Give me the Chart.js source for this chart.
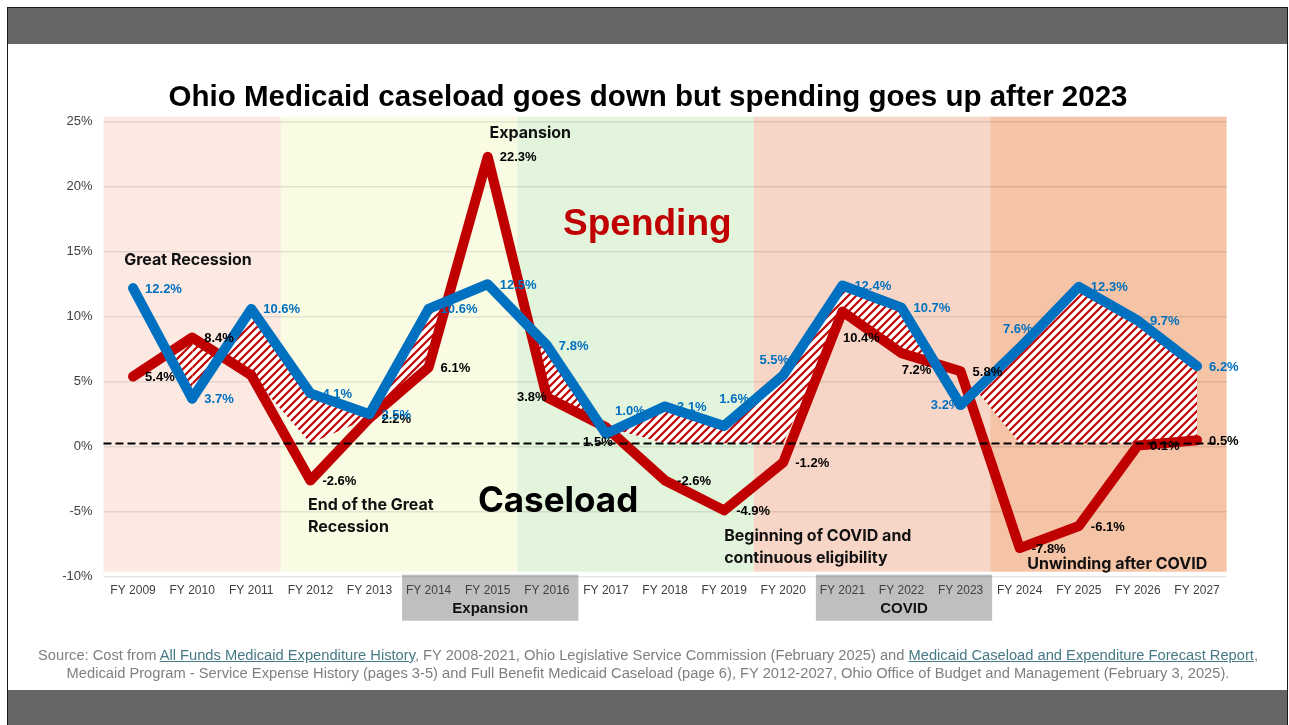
<!DOCTYPE html>
<html><head><meta charset="utf-8">
<script src="https://cdn.jsdelivr.net/npm/chart.js@4"></script>
<style>
html,body{margin:0;padding:0;background:#fff;width:1289px;height:725px;overflow:hidden;font-family:"Liberation Sans",Arial,sans-serif}
#frame{position:absolute;left:7px;top:7px;width:1281px;height:720px;border:1px solid #1a1a1a;box-sizing:border-box}
#topbar{position:absolute;left:8px;top:8px;width:1279px;height:36px;background:#666}
#botbar{position:absolute;left:8px;top:690px;width:1279px;height:35px;background:#666}
#c{position:absolute;left:0;top:0}
#title{position:absolute;left:0;width:1296px;top:79px;line-height:33px;text-align:center;font-weight:bold;font-size:29.5px;color:#000}
#source{position:absolute;left:0;width:1296px;top:646px;text-align:center;font-size:14.7px;line-height:18px;color:#7f7f7f;white-space:nowrap}
#source a{color:#467886;text-decoration:underline}
</style>
</head><body>
<div id="frame"></div>
<div id="topbar"></div>
<div id="botbar"></div>
<canvas id="c" width="1289" height="725"></canvas>
<div id="title">Ohio Medicaid caseload goes down but spending goes up after 2023</div>
<div id="source">Source: Cost from <a>All Funds Medicaid Expenditure History</a>, FY 2008-2021, Ohio Legislative Service Commission (February 2025) and <a>Medicaid Caseload and Expenditure Forecast Report</a>,<br>Medicaid Program - Service Expense History (pages 3-5) and Full Benefit Medicaid Caseload (page 6), FY 2012-2027, Ohio Office of Budget and Management (February 3, 2025).</div>
<script>
// ---- data ----
const categories = ['FY 2009','FY 2010','FY 2011','FY 2012','FY 2013','FY 2014','FY 2015','FY 2016','FY 2017','FY 2018','FY 2019','FY 2020','FY 2021','FY 2022','FY 2023','FY 2024','FY 2025','FY 2026','FY 2027'];
const caseload = [5.4, 8.4, 5.5, -2.6, 2.2, 6.1, 22.3, 3.8, 1.5, -2.6, -4.9, -1.2, 10.4, 7.2, 5.8, -7.8, -6.1, 0.1, 0.5];
const spending = [12.2, 3.7, 10.6, 4.1, 2.5, 10.6, 12.5, 7.8, 1.0, 3.1, 1.6, 5.5, 12.4, 10.7, 3.2, 7.6, 12.3, 9.7, 6.2];
const yMin = -10, yMax = 25, yStep = 5;
const baseline = 0.25;
const caseloadShown = [true,true,false,true,true,true,true,true,true,true,true,true,true,true,true,true,true,true,true];

// ---- layout / style config ----
const RED = '#c00000', BLUE = '#0070c0', NONE = 'rgba(0,0,0,0)';
const caseloadLabelOffset = {7:[-15,0], 8:[-8,15], 12:[19,27], 13:[15,17]};
const spendingLabelOffset = {8:[24,-22], 10:[10,-26], 11:[-9,-15], 14:[-15,0], 15:[-2,-18]};
const bands = [
  {from:0, to:2, color:'#fbe9e2'},
  {from:3, to:6, color:'#fafbe3'},
  {from:7, to:10, color:'#e2f4dc'},
  {from:11, to:14, color:'#f8d6c7'},
  {from:15, to:18, color:'#f5c3a6'}
];
const groups = [{from:5, to:7, label:'Expansion'}, {from:12, to:14, label:'COVID'}];
const notes = [
  {lines:['Great Recession'], x:-0.15, y:14.36, align:'left', font:'bold 16px Inter', color:'#111'},
  {lines:['Expansion'], x:6.72, y:24.1, align:'center', font:'bold 16px Inter', color:'#111'},
  {lines:['Spending'], x:8.7, y:17.05, align:'center', font:'bold 37px "Liberation Sans"', color:RED},
  {lines:['End of the Great','Recession'], x:2.96, y:-4.48, align:'left', font:'bold 16px Inter', color:'#111'},
  {lines:['Caseload'], x:7.19, y:-4.25, align:'center', font:'bold 35px Inter', color:'#000'},
  {lines:['Beginning of COVID and','continuous eligibility'], x:10.0, y:-6.87, align:'left', font:'bold 16px Inter', color:'#111'},
  {lines:['Unwinding after COVID'], x:16.65, y:-9.03, align:'center', font:'bold 16px Inter', color:'#111'}
];

function makeHatch(){
  const s = 8;
  const p = document.createElement('canvas'); p.width = s; p.height = s;
  const g = p.getContext('2d');
  g.fillStyle = '#fff'; g.fillRect(0,0,s,s);
  g.strokeStyle = RED; g.lineWidth = 2.2;
  g.beginPath();
  for (let k = -1; k <= 1; k++) { g.moveTo(k*s - 1, s + 1); g.lineTo(k*s + s + 1, -1); }
  g.stroke();
  return g.createPattern(p, 'repeat');
}
const hatch = makeHatch();
const hatchFloor = caseload.map(v => Math.max(v, baseline));

const backdrop = {
  id:'backdrop',
  beforeDraw(chart){
    const {ctx, chartArea:a, scales:{x}} = chart;
    const half = (x.getPixelForValue(1) - x.getPixelForValue(0)) / 2;
    ctx.save();
    bands.forEach(b => {
      const l = x.getPixelForValue(b.from) - half, r = x.getPixelForValue(b.to) + half;
      ctx.fillStyle = b.color;
      ctx.fillRect(l, a.top - 5, r - l, a.bottom - a.top);
    });
    groups.forEach(gp => {
      const l = x.getPixelForValue(gp.from) - half + 3, r = x.getPixelForValue(gp.to) + half + 2;
      ctx.fillStyle = '#bfbfbf';
      ctx.fillRect(l, a.bottom - 2, r - l, 46);
      ctx.fillStyle = '#111';
      ctx.font = 'bold 15px "Liberation Sans"';
      ctx.textAlign = 'center'; ctx.textBaseline = 'middle';
      ctx.fillText(gp.label, (l + r) / 2, a.bottom + 32);
    });
    ctx.restore();
  }
};

const overlay = {
  id:'overlay',
  afterDatasetsDraw(chart){
    const {ctx, chartArea:a, scales:{x, y}} = chart;
    ctx.save();
    const yb = y.getPixelForValue(baseline);
    ctx.strokeStyle = '#000'; ctx.lineWidth = 2; ctx.setLineDash([8,4]);
    ctx.beginPath(); ctx.moveTo(a.left, yb); ctx.lineTo(a.right - 10, yb); ctx.stroke();
    ctx.setLineDash([]);
    notes.forEach(n => {
      ctx.font = n.font; ctx.fillStyle = n.color; ctx.textAlign = n.align; ctx.textBaseline = 'middle';
      const px = x.getPixelForValue(n.x), py = y.getPixelForValue(n.y);
      n.lines.forEach((t, i) => ctx.fillText(t, px, py + i * 22));
    });
    ctx.font = 'bold 13px "Liberation Sans"'; ctx.textBaseline = 'middle';
    const drawLabels = (dsIndex, values, offsets, color, shown) => {
      const meta = chart.getDatasetMeta(dsIndex);
      ctx.fillStyle = color;
      values.forEach((v, i) => {
        if (shown && !shown[i]) return;
        const pt = meta.data[i];
        const txt = v.toFixed(1) + '%';
        if (offsets[i]) { ctx.textAlign = 'center'; ctx.fillText(txt, pt.x + offsets[i][0], pt.y + offsets[i][1]); }
        else { ctx.textAlign = 'left'; ctx.fillText(txt, pt.x + 12, pt.y + 1); }
      });
    };
    drawLabels(0, caseload, caseloadLabelOffset, '#000', caseloadShown);
    drawLabels(1, spending, spendingLabelOffset, BLUE, null);
    ctx.restore();
  }
};

new Chart(document.getElementById('c'), {
  type:'line',
  data:{
    labels: categories,
    datasets:[
      {label:'Caseload', data:caseload, borderColor:RED, borderWidth:10, pointRadius:0, order:2, borderJoinStyle:'round', borderCapStyle:'round', tension:0,
        fill:{target:1, above:hatch, below:NONE},
        segment:{backgroundColor: c => (c.p0DataIndex <= 1 ? undefined : NONE)}},
      {label:'Spending', data:spending, borderColor:BLUE, borderWidth:10, pointRadius:0, order:1, borderJoinStyle:'round', borderCapStyle:'round', tension:0,
        fill:{target:2, above:hatch, below:NONE},
        segment:{backgroundColor: c => (c.p0DataIndex === 0 ? NONE : undefined)}},
      {label:'floor', data:hatchFloor, borderColor:NONE, borderWidth:1, pointRadius:0, fill:false, order:3}
    ]
  },
  options:{
    responsive:false, animation:false, devicePixelRatio:1,
    layout:{padding:{left:43.5, right:62.4, top:121.7, bottom:108.3}},
    plugins:{legend:{display:false}, tooltip:{enabled:false}, title:{display:false}, filler:{drawTime:'beforeDatasetsDraw'}},
    scales:{
      x:{offset:true, grid:{display:false, drawTicks:false}, border:{display:false},
         ticks:{color:'#404040', font:{family:'"Liberation Sans"', size:12}, padding:7, maxRotation:0, autoSkip:false},
         afterFit(s){ s.height = 40; }},
      y:{min:yMin, max:yMax, grid:{color:'rgba(0,0,0,0.09)', drawTicks:false, lineWidth:1.5}, border:{display:false},
         ticks:{stepSize:yStep, color:'#404040', font:{family:'"Liberation Sans"', size:13}, padding:11, callback:v => v + '%'},
         afterFit(s){ s.width = 60; }}
    }
  },
  plugins:[backdrop, overlay]
});
</script>
</body></html>
